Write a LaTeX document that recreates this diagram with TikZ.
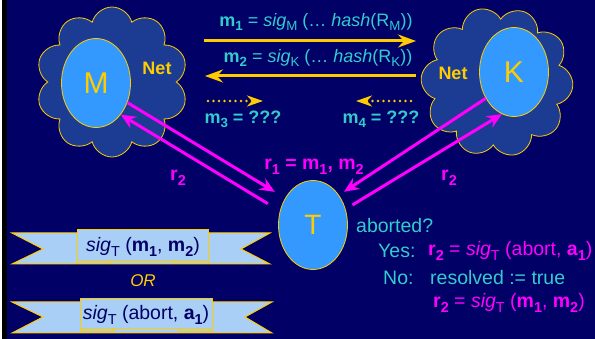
\documentclass[tikz,border=0pt]{standalone}
\usepackage{fontspec}
\usepackage{graphicx}
\setmainfont{Liberation Sans}
\usetikzlibrary{shapes.symbols,shapes.geometric,arrows.meta}
\definecolor{navy}{HTML}{000066}
\definecolor{cyantx}{HTML}{33CCCC}
\definecolor{mag}{HTML}{FF00FF}
\definecolor{gold}{HTML}{FFCC00}
\definecolor{ellblue}{HTML}{3399FF}
\definecolor{cloudblue}{HTML}{1C3C94}
\definecolor{ribbonblue}{HTML}{AACFF7}
\newcommand\sbs[1]{\raisebox{-0.24em}{\scalebox{0.74}{#1}}}
\begin{document}
\begin{tikzpicture}[x=1pt,y=-1pt,
  party/.style={ellipse, draw=gold, line width=0.8pt, fill=ellblue, minimum width=69pt, minimum height=89pt, inner sep=0pt, text=gold, font=\fontsize{30}{32}\selectfont},
  netcloud/.style={cloud, cloud puffs=10, cloud puff arc=150, aspect=1, draw=gold, line width=0.8pt, fill=cloudblue, minimum width=152pt, minimum height=150pt, inner sep=0pt},
  nettext/.style={text=gold, font=\fontsize{18}{20}\selectfont\bfseries, inner sep=0pt},
  toplabel/.style={text=cyantx, font=\fontsize{18}{20}\selectfont, inner sep=0pt},
  lowtext/.style={font=\fontsize{19.5}{22}\selectfont, inner sep=0pt, anchor=west},
  msgarrow/.style={draw=gold, line width=3pt, -{Stealth[length=18pt,width=13pt,inset=6pt]}},
  dotarrow/.style={draw=gold, line width=2.8pt, line cap=round, dash pattern=on 0pt off 5.5pt, -{Stealth[length=16pt,width=11pt,inset=5pt,line cap=butt]}},
  magarrow/.style={draw=mag, line width=3pt, -{Stealth[length=15pt,width=13pt,inset=5pt]}},
  maglabel/.style={text=mag, font=\fontsize{19.5}{22}\selectfont\bfseries, inner sep=0pt},
  band/.style={fill=ribbonblue, draw=gold, line width=1pt},
  panel/.style={fill=ribbonblue, draw=gold, line width=1pt},
]
\useasboundingbox (0,0) rectangle (595,339);
\fill[white] (0,0) rectangle (2,339);
\fill[black] (2,0) rectangle (7,339);
\fill[navy] (7,0) rectangle (595,339);

% clouds
\node[netcloud] (cloudM) at (112,82) {};
\node[netcloud, rotate=15] (cloudK) at (497,82) {};
\node[party] (M) at (96,83) {M};
\node[party] (K) at (514,72) {K};
\node[party, font=\fontsize{28}{30}\selectfont] (T) at (313,225) {T};
\node[nettext] (netM) at (157,68) {Net};
\node[nettext] (netK) at (453,73) {Net};

% message arrows
\coordinate (m1s) at (204,41);
\coordinate (m1e) at (416,41);
\coordinate (m2s) at (416,76);
\coordinate (m2e) at (205,76);
\draw[msgarrow] (m1s) -- (m1e);
\draw[msgarrow] (m2s) -- (m2e);
\node[toplabel] (m1l) at (316,22) {\textbf{m\sbs{1}} = \textit{sig}\sbs{M} (… \textit{hash}(R\sbs{M}))};
\node[toplabel] (m2l) at (318,58) {\textbf{m\sbs{2}} = \textit{sig}\sbs{K} (… \textit{hash}(R\sbs{K}))};

\coordinate (m3s) at (208,101);
\coordinate (m3e) at (263,101);
\coordinate (m4s) at (411,101);
\coordinate (m4e) at (356,101);
\draw[dotarrow] (m3s) -- (m3e);
\draw[dotarrow] (m4s) -- (m4e);
\node[toplabel, font=\fontsize{18}{20}\selectfont\bfseries] (m3l) at (243,119) {m\sbs{3} = ???};
\node[toplabel, font=\fontsize{18}{20}\selectfont\bfseries] (m4l) at (381,119) {m\sbs{4} = ???};

% magenta arrows
\draw[magarrow, shorten >=12pt] (M.-32) -- (T.136);
\draw[magarrow, shorten <=14pt] (T.157) -- (M.-52);
\draw[magarrow, shorten >=6pt] (K.-137) -- (T.49);
\draw[magarrow, shorten <=8pt] (T.26) -- (K.-106);
\node[maglabel] (r2l) at (178,178) {r\sbs{2}};
\node[maglabel] (r2r) at (449,178) {r\sbs{2}};
\node[maglabel] (r1) at (314,167) {r\sbs{1} = m\sbs{1}, m\sbs{2}};

% text right of T
\node[lowtext, text=cyantx] (ab) at (356,226) {aborted?};
\node[lowtext, text=cyantx] (yes) at (378,251) {Yes:};
\node[lowtext, text=mag] (yesr) at (428,251) {\textbf{r\sbs{2}} = \textit{sig}\sbs{T} (abort, \textbf{a\sbs{1}})};
\node[lowtext, text=cyantx] (no) at (383,278) {No:};
\node[lowtext, text=cyantx] (nor) at (430,278) {resolved := true};
\node[lowtext, text=mag] (nor2) at (433,303) {\textbf{r\sbs{2}} = \textit{sig}\sbs{T} (\textbf{m\sbs{1}}, \textbf{m\sbs{2}})};

% ribbon 1
\draw[band] (12,233) -- (270,233) -- (241,249) -- (270,264) -- (12,264) -- (43,249) -- cycle;
\draw[panel] (77,258) rectangle (110,264);
\draw[panel] (175,258) rectangle (208,264);
\draw[panel] (77,230) rectangle (208,261);
\node[font=\fontsize{19.5}{22}\selectfont, text=navy, inner sep=0pt] (rib1) at (143,247) {\textit{sig}\sbs{T} (\textbf{m\sbs{1}}, \textbf{m\sbs{2}})};

\node[font=\fontsize{17}{20}\selectfont\itshape, text=gold, inner sep=0pt] (or) at (143,281) {OR};

% ribbon 2
\draw[band] (12,302) -- (272,302) -- (245,317) -- (272,333) -- (12,333) -- (43,317) -- cycle;
\draw[panel] (80,326) rectangle (113,332);
\draw[panel] (179,326) rectangle (212,332);
\draw[panel] (80,299) rectangle (212,329);
\node[font=\fontsize{19.5}{22}\selectfont, text=navy, inner sep=0pt] (rib2) at (146,315) {\textit{sig}\sbs{T} (abort, \textbf{a\sbs{1}})};
\end{tikzpicture}
\end{document}
